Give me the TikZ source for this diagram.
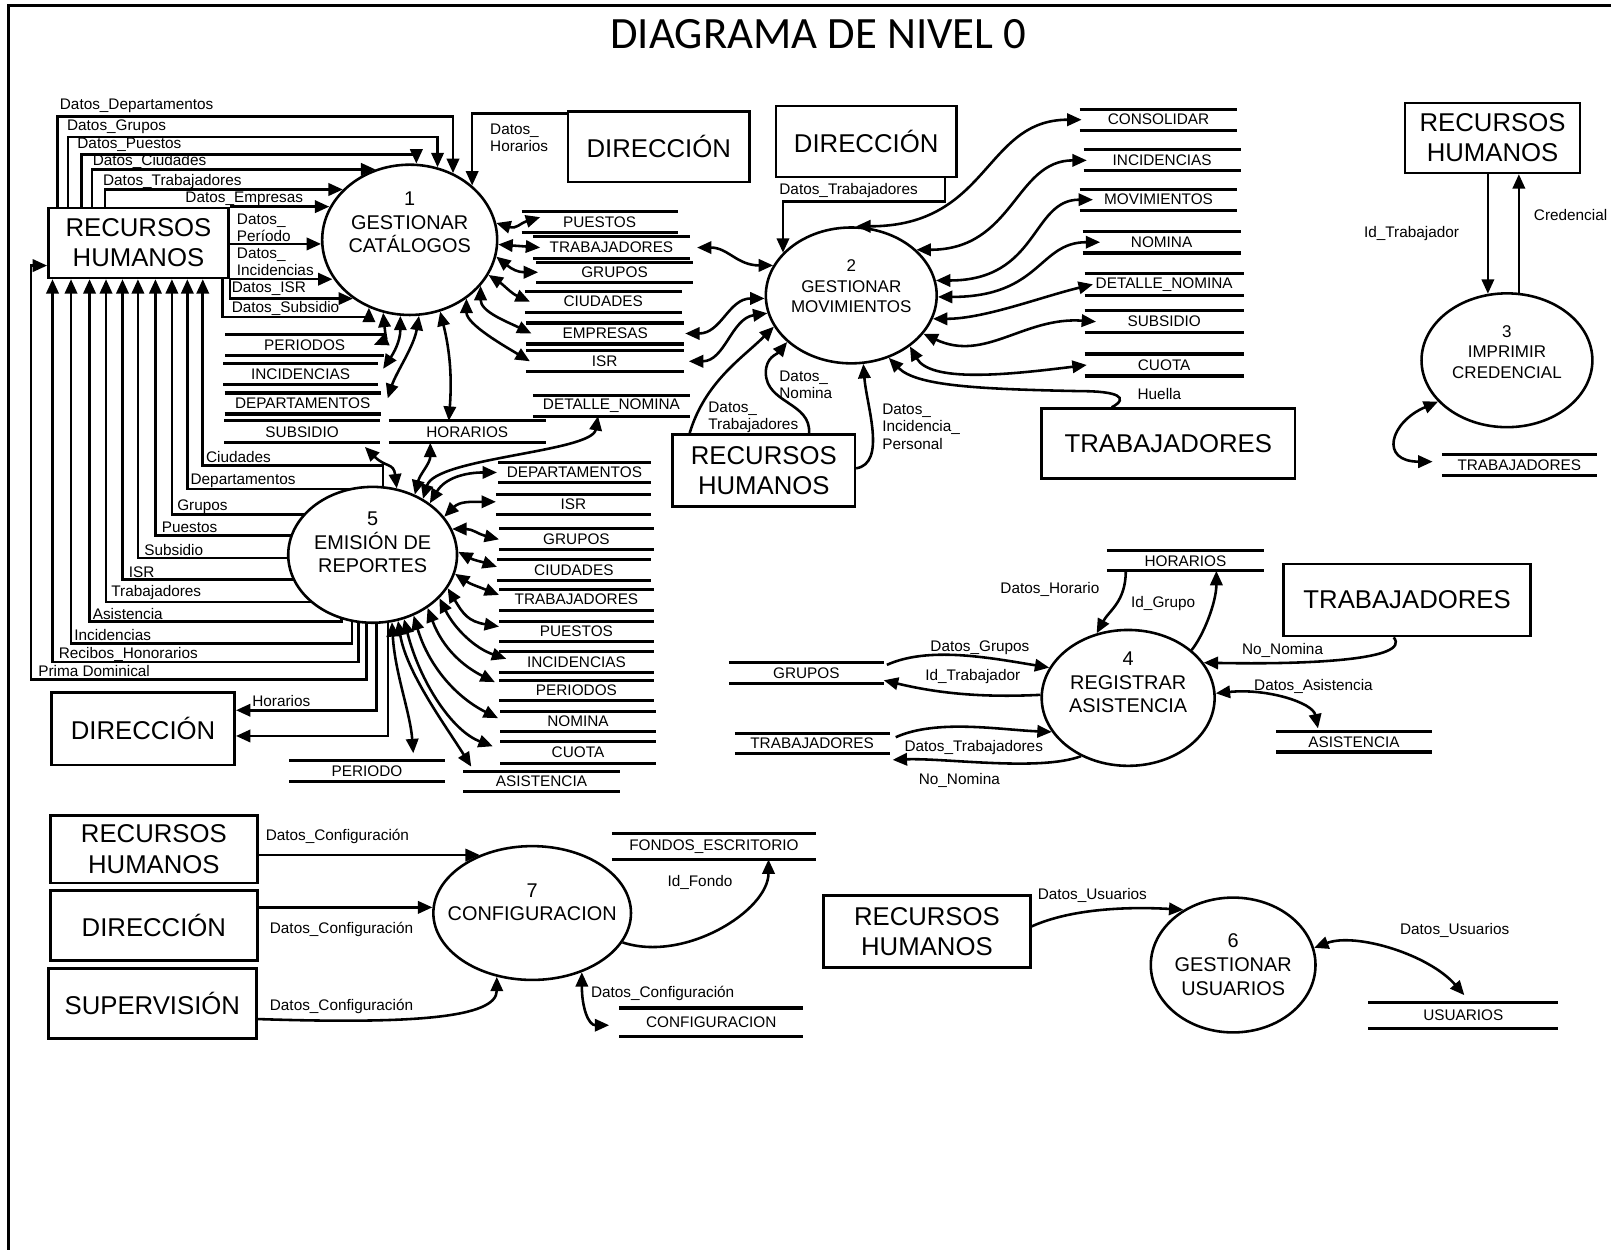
\documentclass[tikz,border=0pt]{standalone}
\usepackage{fontspec}
\setmainfont{Liberation Sans}
\newfontfamily\titlefamily{Carlito}
\usetikzlibrary{arrows.meta,shapes.geometric,backgrounds}

\newcommand\entfont{\fontsize{25}{29.5}\selectfont}
\newcommand\procfont{\fontsize{19.3}{23}\selectfont}
\newcommand\procsmallfont{\fontsize{16.5}{19.6}\selectfont}
\newcommand\lblfont{\fontsize{14.9}{17}\selectfont}

\tikzset{
  ent/.style={draw, line width=2.5pt, font=\entfont, align=center, inner sep=0pt},
  proc/.style={draw, ellipse, line width=2.5pt, fill=white, inner sep=0pt},
  ptext/.style={font=\procfont, align=center, inner sep=0pt},
  psmall/.style={font=\procsmallfont, align=center, inner sep=0pt},
  storeline/.style={draw, line width=3pt, -},
  store/.style={font=\lblfont, inner sep=0pt, minimum width=150pt, minimum height=20pt,
    append after command={
      (\tikzlastnode.north west) edge[storeline] (\tikzlastnode.north east)
      (\tikzlastnode.south west) edge[storeline] (\tikzlastnode.south east)}},
  lbl/.style={font=\lblfont, inner sep=0pt, anchor=west, align=left},
  lblc/.style={font=\lblfont, inner sep=0pt, anchor=center, align=center},
  flow/.style={line width=2.5pt, -{Triangle[length=14pt, width=12pt]}},
  biflow/.style={line width=2.5pt, {Triangle[length=14pt, width=12pt]}-{Triangle[length=14pt, width=12pt]}},
}

\begin{document}
\begin{tikzpicture}[x=1pt, y=-1pt]
\useasboundingbox (0,0) rectangle (1568,1214);

% frame and title
\draw[line width=3pt] (8,1216) -- (8,5) -- (1565,5);
\node[font=\titlefamily\fontsize{43.5}{50}\selectfont, inner sep=0pt] (title) at (795,33) {DIAGRAMA DE NIVEL 0};

% ---------------- external entities ----------------
\node[ent, minimum width=175pt, minimum height=68pt] (rh1) at (134.5,236) {RECURSOS\\HUMANOS};
\node[ent, minimum width=176pt, minimum height=68.5pt] (d1) at (640,142.75) {DIRECCIÓN};
\node[ent, minimum width=175pt, minimum height=69pt] (d2) at (841.5,137.5) {DIRECCIÓN};
\node[ent, minimum width=177pt, minimum height=70pt] (rh2) at (742,457) {RECURSOS\\HUMANOS};
\node[ent, minimum width=246pt, minimum height=68pt] (tb2) at (1135,431) {TRABAJADORES};
\node[ent, minimum width=170pt, minimum height=68pt] (rh3) at (1450,134) {RECURSOS\\HUMANOS};
\node[ent, minimum width=240pt, minimum height=70pt] (tb4) at (1367,583) {TRABAJADORES};
\node[ent, minimum width=178pt, minimum height=70pt] (d5) at (139,708) {DIRECCIÓN};
\node[ent, minimum width=201pt, minimum height=66pt] (rh7) at (149.5,825) {RECURSOS\\HUMANOS};
\node[ent, minimum width=201pt, minimum height=68pt] (d7) at (149.5,899) {DIRECCIÓN};
\node[ent, minimum width=202pt, minimum height=68pt] (s7) at (148,975) {SUPERVISIÓN};
\node[ent, minimum width=201pt, minimum height=70pt] (rh6) at (900.5,905) {RECURSOS\\HUMANOS};

% ---------------- processes ----------------
\node[proc, minimum width=170pt, minimum height=146pt] (p1) at (398,233) {};
\node[ptext] (t1) at (398,216) {1\\GESTIONAR\\CATÁLOGOS};
\node[proc, minimum width=166pt, minimum height=132pt] (p2) at (827,287) {};
\node[psmall] (t2) at (827,278) {2\\GESTIONAR\\MOVIMIENTOS};
\node[proc, minimum width=166pt, minimum height=130pt] (p3) at (1464,350) {};
\node[psmall] (t3) at (1464,342) {3\\IMPRIMIR\\CREDENCIAL};
\node[proc, minimum width=168pt, minimum height=132pt] (p4) at (1096,678) {};
\node[ptext] (t4) at (1096,663) {4\\REGISTRAR\\ASISTENCIA};
\node[proc, minimum width=164pt, minimum height=132pt] (p5) at (362,539) {};
\node[ptext] (t5) at (362,527) {5\\EMISIÓN DE\\REPORTES};
\node[proc, minimum width=160pt, minimum height=131pt] (p6) at (1198,937.5) {};
\node[ptext] (t6) at (1198,937) {6\\GESTIONAR\\USUARIOS};
\node[proc, minimum width=192pt, minimum height=130pt] (p7) at (517,887) {};
\node[ptext] (t7) at (517,876.5) {7\\CONFIGURACION};

% ---------------- data stores ----------------
% around process 1
\node[store, minimum width=151pt] (sPu1) at (582.5,216) {PUESTOS};
\node[store, minimum width=152pt, minimum height=21pt] (sTr1) at (594,240.5) {TRABAJADORES};
\node[store, minimum width=152pt, minimum height=19pt] (sGr1) at (597,264.5) {GRUPOS};
\node[store, minimum width=152pt] (sCi1) at (586,293) {CIUDADES};
\node[store, minimum width=153pt] (sEm1) at (588,324) {EMPRESAS};
\node[store, minimum width=153pt] (sIs1) at (587.5,351) {ISR};
\node[store, minimum width=154pt] (sPe1) at (296,335) {PERIODOS};
\node[store, minimum height=19.5pt] (sIn1) at (292,363.3) {INCIDENCIAS};
\node[store, minimum width=151pt] (sDe1) at (294,392) {DEPARTAMENTOS};
\node[store, minimum width=151pt, minimum height=21pt] (sSu1) at (293.5,419.5) {SUBSIDIO};
\node[store, minimum width=152pt, minimum height=21pt] (sHo1) at (454,419.5) {HORARIOS};
% around process 5
\node[store, minimum width=152pt] (sDN5) at (594,394) {DETALLE\_NOMINA};
\node[store, minimum width=148pt, minimum height=19.5pt] (sDe5) at (558,459) {DEPARTAMENTOS};
\node[store, minimum height=19.5pt] (sIs5) at (557,490) {ISR};
\node[store] (sGr5) at (560,524) {GRUPOS};
\node[store, minimum width=149pt] (sCi5) at (557.5,553.7) {CIUDADES};
\node[store] (sTr5) at (560,582.5) {TRABAJADORES};
\node[store, minimum height=19.5pt] (sPu5) at (560,613.7) {PUESTOS};
\node[store] (sIn5) at (560,643) {INCIDENCIAS};
\node[store, minimum height=19pt] (sPe5) at (560,670.7) {PERIODOS};
\node[store, minimum width=151pt, minimum height=19pt] (sNo5) at (561.5,700.7) {NOMINA};
\node[store, minimum width=151pt, minimum height=21pt] (sCu5) at (561.5,731) {CUOTA};
\node[store, minimum width=152pt, minimum height=19.5pt] (sAs5) at (526,759.4) {ASISTENCIA};
\node[store, minimum width=151pt] (sPe5b) at (356.5,749.4) {PERIODO};
% around process 2
\node[store, minimum width=153pt] (sCo2) at (1125.5,116.3) {CONSOLIDAR};
\node[store, minimum width=152pt] (sIn2) at (1129,155.8) {INCIDENCIAS};
\node[store, minimum width=153pt] (sMo2) at (1125.5,194) {MOVIMIENTOS};
\node[store, minimum width=153pt, minimum height=20.5pt] (sNo2) at (1128.5,235.3) {NOMINA};
\node[store, minimum width=154pt, minimum height=20.6pt] (sDN2) at (1131,276.3) {DETALLE\_NOMINA};
\node[store, minimum width=154pt, minimum height=21.4pt] (sSu2) at (1131,312.5) {SUBSIDIO};
\node[store, minimum width=154pt, minimum height=21pt] (sCu2) at (1131,354.6) {CUOTA};
% around process 3
\node[store] (sTr3) at (1476,452) {TRABAJADORES};
% around process 4
\node[store, minimum width=152.5pt, minimum height=19pt] (sHo4) at (1151.7,544.9) {HORARIOS};
\node[store, minimum width=151pt, minimum height=19.5pt] (sAs4) at (1315.4,720.6) {ASISTENCIA};
\node[store] (sGr4) at (783.4,653.9) {GRUPOS};
\node[store, minimum height=19.4pt] (sTr4) at (789,722.2) {TRABAJADORES};
% around processes 7 and 6
\node[store, minimum width=198pt, minimum height=25pt] (sFo7) at (693.6,822.2) {FONDOS\_ESCRITORIO};
\node[store, minimum width=178pt, minimum height=27pt] (sCo7) at (691,993) {CONFIGURACION};
\node[store, minimum width=184pt, minimum height=25pt] (sUs6) at (1421.6,986.5) {USUARIOS};

% ---------------- process 1: inputs ----------------
\draw[flow] (rh1.north -| 56,0) |- (p1.57 |- 0,113) -- (p1.57);
\draw[flow] (rh1.north -| 66,0) |- (p1.69 |- 0,133) -- (p1.69);
\draw[flow] (rh1.north -| 79,0) |- (p1.85 |- 0,150) -- (p1.85);
\draw[flow] (rh1.north -| 89.5,0) |- (p1.116);
\draw[flow] (rh1.north -| 102,0) |- (p1.143);
\draw[flow] (rh1.north east) -- (p1.158 |- rh1.north east);
\draw[flow] (rh1.east |- 0,237) -- (p1.183 |- 0,237);
\draw[flow] (rh1.south east) -- (p1.206 |- rh1.south east);
\draw[flow] (rh1.south east) |- (p1.226);
\draw[flow] (rh1.south -| 216,0) |- (p1.239 |- 0,308) -- (p1.239);
\draw[flow] (d1.west |- 0,110) -| (p1.41);

\node[lbl] (lDep) at (58,103) {Datos\_Departamentos};
\node[lbl] (lGru) at (65,123) {Datos\_Grupos};
\node[lbl] (lPue) at (75,141) {Datos\_Puestos};
\node[lbl] (lCiu) at (90,157) {Datos\_Ciudades};
\node[lbl] (lTra) at (100,176) {Datos\_Trabajadores};
\node[lbl] (lEmp) at (180,193) {Datos\_Empresas};
\node[lbl] (lPer) at (230,221.5) {Datos\_\\Período};
\node[lbl] (lInc) at (230,254.5) {Datos\_\\Incidencias};
\node[lbl] (lIsr) at (225,280) {Datos\_ISR};
\node[lbl] (lSub) at (225,300) {Datos\_Subsidio};
\node[lbl] (lHor) at (476,134) {Datos\_\\Horarios};

% process 1 <-> its stores
\draw[biflow] (p1.11) .. controls +(20,6) and +(-20,6) .. ([xshift=18pt,yshift=5pt]sPu1.west);
\draw[biflow] (p1.-3) -- ([xshift=7pt]sTr1.west);
\draw[biflow] (p1.-11) .. controls +(15,12) and +(-20,0) .. ([xshift=2pt]sGr1.west);
\draw[biflow] (p1.-24) .. controls +(15,10) and +(-18,-8) .. ([xshift=5pt]sCi1.west);
\draw[biflow] (p1.-33) .. controls +(0,25) and +(-25,-12) .. ([xshift=5pt]sEm1.west);
\draw[biflow] (p1.-46) .. controls +(0,25) and +(-25,-15) .. ([xshift=4pt]sIs1.west);
\draw[biflow] (p1.250) .. controls +(2,20) and +(12,-5) .. ([xshift=-10pt]sPe1.east);
\draw[biflow] (p1.263) .. controls +(0,25) and +(10,-15) .. ([xshift=5pt,yshift=5pt]sIn1.east);
\draw[biflow] (p1.277) .. controls +(-5,30) and +(8,-25) .. ([xshift=7pt,yshift=5pt]sDe1.east);
\draw[biflow] (p1.293) .. controls +(10,40) and +(3,-40) .. ([xshift=-18pt]sHo1.north);

% ---------------- process 2 ----------------
\draw[flow] (d2.south -| 918,0) -- (918,196) -| (p2.148);
\node[lbl] (lTr2) at (757,185) {Datos\_Trabajadores};

\draw[biflow] ([xshift=7pt]sTr1.east) .. controls +(30,0) and +(-35,0) .. (p2.159);
\draw[biflow] ([xshift=1pt]sEm1.east) .. controls +(35,0) and +(-35,0) .. (p2.182);
\draw[biflow] ([xshift=5pt]sIs1.east) .. controls +(35,0) and +(-35,5) .. (p2.192);

\draw[flow] (rh2.north -| 670,0) .. controls +(15,-50) and +(-30,30) .. (p2.202);
\draw[flow] (rh2.north -| 786,0) .. controls +(2,-30) and +(0,30) .. (744,362)
  .. controls +(0,-15) and +(-10,12) .. (p2.216);
\draw[flow] (rh2.east |- 0,455) .. controls +(30,-5) and +(3,40) .. (p2.280);
\node[lbl] (lNo2) at (757,374) {Datos\_\\Nomina};
\node[lbl] (lTr2b) at (688,405.5) {Datos\_\\Trabajadores};
\node[lbl] (lIP2) at (857,414.5) {Datos\_\\Incidencia\_\\Personal};

\draw[biflow] (p2.86) .. controls +(130,0) and +(-95,0) .. ([xshift=2pt]sCo2.west);
\draw[biflow] (p2.35) .. controls +(95,0) and +(-70,0) .. ([xshift=3pt]sIn2.west);
\draw[biflow] (p2.10) .. controls +(100,0) and +(-60,0) .. ([xshift=13pt]sMo2.west);
\draw[biflow] (p2.-1) .. controls +(100,0) and +(-60,0) .. ([xshift=17pt]sNo2.west);
\draw[biflow] (p2.-16) .. controls +(50,0) and +(-50,12) .. ([xshift=8pt]sDN2.west);
\draw[biflow] (p2.-28) .. controls +(60,28) and +(-70,-5) .. ([xshift=11pt]sSu2.west);
\draw[biflow] (p2.-41) .. controls +(20,35) and +(-80,10) .. ([xshift=2pt]sCu2.west);
\draw[flow] (tb2.north -| 1080,0) .. controls (1098,386) and (1085,380) .. (1050,380)
  .. controls (950,378) and (890,375) .. (p2.-59);
\node[lbl] (lHue) at (1105,383) {Huella};

% ---------------- process 3 ----------------
\draw[flow] (rh3.south -| p3.106) -- (p3.106);
\draw[flow] (p3.80) -- (rh3.south -| p3.80);
\draw[biflow] (p3.211) .. controls +(-47,20) and +(-52,0) .. ([xshift=-9pt,yshift=3.5pt]sTr3.west);
\node[lbl] (lId3) at (1325,226.7) {Id\_Trabajador};
\node[lbl] (lCr3) at (1490,209) {Credencial};

% ---------------- process 4 ----------------
\draw[flow] ([xshift=-58pt]sHo4.south) .. controls +(0,30) and +(12,-22) .. (p4.116);
\draw[flow] (p4.37) .. controls +(12,-15) and +(0,30) .. ([xshift=30pt]sHo4.south);
\draw[flow] (tb4.south -| 1354,0) .. controls +(18,22) and +(100,2) .. (p4.25);
\draw[biflow] (p4.3) .. controls +(50,-5) and +(-5,-25) .. ([xshift=-35pt,yshift=3pt]sAs4.north);
\draw[flow] ([xshift=3pt,yshift=8pt]sGr4.east) .. controls +(40,-18) and +(-60,-10) .. (p4.159);
\draw[flow] (p4.178) .. controls +(-60,3) and +(50,12) .. ([yshift=-7pt]sGr4.east);
\draw[flow] ([xshift=6pt,yshift=6pt]sTr4.east) .. controls +(40,-18) and +(-50,-2) .. (p4.204);
\draw[flow] (p4.231) .. controls +(-40,15) and +(50,-2) .. ([xshift=3pt,yshift=-16pt]sTr4.east);
\node[lblc] (lHo4) at (1020,573) {Datos\_Horario};
\node[lblc] (lGr4) at (1130,586) {Id\_Grupo};
\node[lblc] (lNn4) at (1246,632) {No\_Nomina};
\node[lblc] (lAs4) at (1276,667) {Datos\_Asistencia};
\node[lblc] (lDg4) at (952,629) {Datos\_Grupos};
\node[lblc] (lIt4) at (945,657) {Id\_Trabajador};
\node[lblc] (lDt4) at (946,726) {Datos\_Trabajadores};
\node[lblc] (lNm4) at (932,758) {No\_Nomina};

% ---------------- process 5 ----------------
\begin{scope}[on background layer]
\draw[flow] (p5.center -| 372,0) |- (197,452) -- (rh1.south -| 197,0);
\draw[flow] (p5.center |- 0,475) -| (rh1.south -| 182,0);
\draw[flow] (p5.center |- 0,500) -| (rh1.south -| 167,0);
\draw[flow] (p5.center |- 0,520) -| (rh1.south -| 151,0);
\draw[flow] (p5.center |- 0,542) -| (rh1.south -| 134,0);
\draw[flow] (p5.center |- 0,563) -| (rh1.south -| 119,0);
\draw[flow] (p5.center |- 0,585) -| (rh1.south -| 103,0);
\draw[flow] (p5.center -| 332,0) |- (87,604) -- (rh1.south -| 87,0);
\draw[flow] (p5.center -| 342,0) |- (69,625) -- (rh1.south -| 69,0);
\draw[flow] (p5.center -| 348,0) |- (51,643) -- (rh1.south -| 51,0);
\draw[flow] (p5.center -| 356,0) |- (30,660) |- (rh1.west |- 0,258);
\draw[flow] (p5.center -| 366,0) |- (d5.east |- 0,690);
\draw[flow] (p5.center -| 377,0) |- (d5.east |- 0,715);
\end{scope}
\node[lbl] (l5a) at (200,444) {Ciudades};
\node[lbl] (l5b) at (185,467) {Departamentos};
\node[lbl] (l5c) at (172,492) {Grupos};
\node[lbl] (l5d) at (157,512) {Puestos};
\node[lbl] (l5e) at (140,534) {Subsidio};
\node[lbl] (l5f) at (125,556) {ISR};
\node[lbl] (l5g) at (108,576) {Trabajadores};
\node[lbl] (l5h) at (90,597) {Asistencia};
\node[lbl] (l5i) at (72,617) {Incidencias};
\node[lbl] (l5j) at (57,636) {Recibos\_Honorarios};
\node[lbl] (l5k) at (37,652) {Prima Dominical};
\node[lbl] (l5l) at (245,681) {Horarios};

\draw[biflow] ([xshift=61pt,yshift=-4pt]sSu1.south) .. controls +(20,20) and +(-3,-25) .. (p5.70);
\draw[biflow] ([xshift=-36pt]sHo1.south) .. controls +(0,20) and +(5,-20) .. (p5.55);
\draw[biflow] (p5.48) .. controls +(12,-40) and +(-6,35) .. ([xshift=-13pt]sDN5.south);
\draw[biflow] (p5.42) .. controls +(15,-25) and +(-30,0) .. ([xshift=-1pt]sDe5.west);
\draw[biflow] (p5.28) .. controls +(15,-15) and +(-25,0) .. ([yshift=2.5pt]sIs5.west);
\draw[biflow] (p5.18) .. controls +(20,0) and +(-20,-5) .. (sGr5.west);
\draw[biflow] (p5.2) .. controls +(15,8) and +(-15,-5) .. ([yshift=3pt]sCi5.west);
\draw[biflow] (p5.-13) .. controls +(15,10) and +(-20,-8) .. ([yshift=4.5pt]sTr5.west);
\draw[biflow] (p5.-24) .. controls +(15,25) and +(-30,-5) .. ([yshift=5pt]sPu5.west);
\draw[biflow] (p5.-33) .. controls +(15,30) and +(-30,-10) .. ([xshift=7pt,yshift=3pt]sIn5.west);
\draw[biflow] (p5.-44) .. controls +(15,40) and +(-30,-15) .. ([xshift=-4pt,yshift=8pt]sPe5.west);
\draw[biflow] (p5.-56) .. controls +(15,50) and +(-40,-20) .. ([xshift=-2pt,yshift=3pt]sNo5.west);
\draw[biflow] (p5.-64) .. controls +(15,60) and +(-40,-15) .. ([xshift=-7pt,yshift=6pt]sCu5.west);
\draw[biflow] (p5.-69) .. controls +(8,50) and +(-25,-40) .. ([xshift=8pt,yshift=14.6pt]sAs5.west);
\draw[biflow] (p5.-74) .. controls +(3,50) and +(-3,-40) .. ([xshift=45pt,yshift=7.4pt]sPe5b.north);

% ---------------- process 7 ----------------
\draw[flow] (rh7.east |- 0,830.7) -- (p7.132 |- 0,830.7);
\draw[flow] (d7.east |- 0,881.5) -- (p7.177 |- 0,881.5);
\draw[flow] (s7.east |- 0,990) .. controls +(150,5) and +(0,40) .. (p7.241);
\draw[flow] (p7.-18) .. controls +(60,20) and +(0,50) .. ([xshift=53pt]sFo7.south);
\draw[biflow] (p7.-50) .. controls +(0,35) and +(-20,0) .. ([xshift=-10pt,yshift=-3pt]sCo7.west);
\node[lbl] (l7a) at (258,813) {Datos\_Configuración};
\node[lbl] (l7b) at (262,903) {Datos\_Configuración};
\node[lbl] (l7c) at (262,978) {Datos\_Configuración};
\node[lblc] (l7d) at (680,857) {Id\_Fondo};
\node[lbl] (l7e) at (574,965) {Datos\_Configuración};

% ---------------- process 6 ----------------
\draw[flow] (rh6.east |- 0,900) .. controls +(40,-18) and +(-50,-3) .. (p6.132);
\draw[biflow] (p6.12) .. controls +(40,-15) and +(-35,-40) .. ([xshift=1pt,yshift=7pt]sUs6.north);
\node[lbl] (l6a) at (1008,870) {Datos\_Usuarios};
\node[lbl] (l6b) at (1360,904) {Datos\_Usuarios};

\end{tikzpicture}
\end{document}
